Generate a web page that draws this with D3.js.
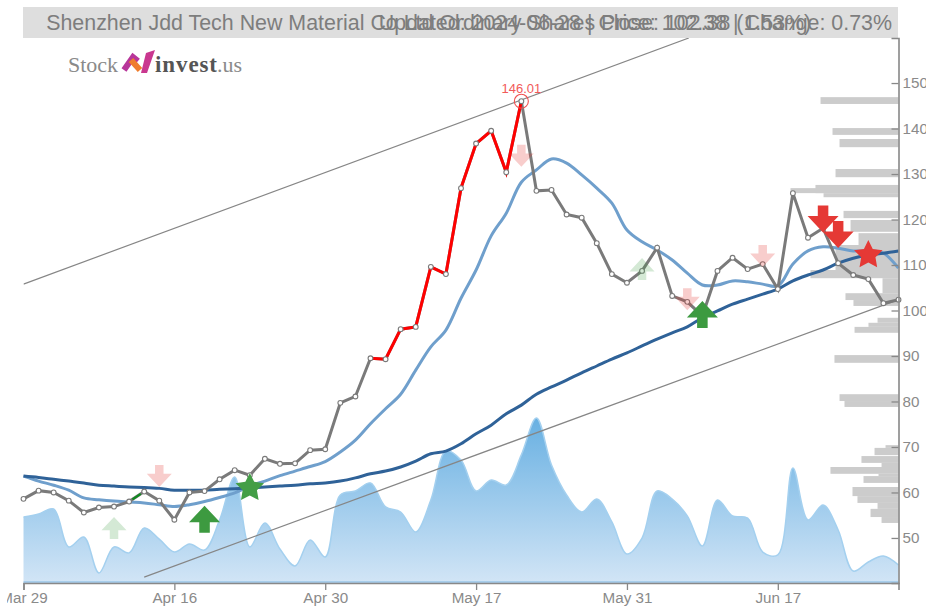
<!DOCTYPE html>
<html>
<head>
<meta charset="utf-8">
<script src="https://cdn.jsdelivr.net/npm/d3@7"></script>
<style>
html, body { margin: 0; padding: 0; background: #fff; overflow: hidden; }
svg { display: block; font-family: "Liberation Sans", Arial, sans-serif; }
</style>
</head>
<body>
<svg width="926" height="610"></svg>
<script>
const closes = [58.6, 60.4, 60.0, 58.2, 55.6, 56.7, 56.9, 58.0, 60.2, 58.2, 54.0, 60.0, 60.3, 62.9, 64.9, 63.8, 67.4, 66.3, 66.4, 69.3, 69.5, 79.7, 81.1, 89.5, 89.3, 95.9, 96.4, 109.6, 108.0, 126.9, 136.7, 139.5, 130.4, 146.01, 126.3, 126.5, 121.1, 120.4, 114.8, 108.0, 106.1, 108.7, 113.8, 103.2, 101.9, 98.8, 108.7, 111.6, 109.1, 110.2, 104.7, 125.8, 116.0, 118.1, 110.4, 107.8, 106.9, 101.6, 102.38]
const shortMa = [63.6, 62.5, 61.6, 60.5, 58.8, 58.4, 58.1, 57.9, 57.7, 57.3, 56.9, 57.3, 58.0, 58.9, 59.9, 61.4, 62.5, 63.7, 64.7, 65.7, 66.8, 68.9, 71.5, 75.1, 78.4, 81.6, 86.9, 92.0, 95.7, 102.7, 108.9, 116.4, 121.4, 128.2, 130.9, 133.3, 132.4, 129.8, 126.9, 123.6, 117.7, 115.1, 113.3, 111.1, 108.2, 105.6, 105.6, 106.5, 106.3, 105.8, 105.4, 110.2, 113.1, 114.0, 113.7, 113.1, 113.1, 112.6, 109.3]
const longMa = [63.6, 63.3, 62.9, 62.5, 62.1, 61.6, 61.4, 61.2, 61.1, 60.9, 60.5, 60.5, 60.5, 60.7, 60.8, 61.0, 61.2, 61.4, 61.6, 61.9, 62.1, 62.5, 63.2, 64.1, 64.7, 65.6, 66.9, 68.5, 69.1, 70.7, 72.9, 74.8, 77.3, 79.2, 81.6, 83.2, 84.7, 86.3, 87.8, 89.3, 90.7, 92.2, 93.7, 95.1, 96.4, 98.4, 99.9, 101.4, 102.5, 103.6, 104.7, 106.5, 107.8, 108.9, 110.4, 111.5, 112.2, 112.6, 113.1]
const volumes = [42.1, 43.9, 46.8, 24.6, 30.4, 9.4, 24.6, 21.1, 35.7, 29.2, 21.6, 26.3, 22.8, 40.4, 65.5, 24.6, 38.6, 23.4, 13.5, 28.7, 18.7, 55.0, 57.3, 62.0, 48.0, 45.0, 33.3, 52.0, 80.7, 75.4, 57.3, 63.7, 60.8, 78.4, 100.0, 72.5, 55.0, 45.0, 52.6, 39.2, 20.5, 29.8, 57.3, 52.6, 42.7, 25.1, 52.0, 42.7, 41.5, 21.6, 19.9, 70.8, 40.4, 49.1, 34.5, 10.5, 15.8, 19.3, 14.0]

const tickIndex = [0, 10, 20, 30, 40, 50]
const tickLabels = ['Mar 29', 'Apr 16', 'Apr 30', 'May 17', 'May 31', 'Jun 17']
const priceTicks = [50, 60, 70, 80, 90, 100, 110, 120, 130, 140, 150]

// price profile on the right edge
const profileHigh = [146.9, 140.1, 137.7, 131.1, 127.6, 126.9, 125.8, 121.9, 119.9, 117.0, 114.4, 108.9, 107.1, 103.8, 102.3, 98.4, 97.3, 96.4, 90.2, 81.6, 80.1, 70.4, 69.8, 68.0, 66.5, 65.6, 64.1, 63.6, 61.2, 59.2, 57.7, 56.4, 54.6]
const profileLow = [145.4, 138.6, 135.9, 129.3, 125.8, 125.8, 124.9, 120.3, 117.3, 114.4, 108.9, 107.1, 103.8, 102.3, 101.0, 97.3, 96.4, 95.1, 88.5, 80.1, 78.8, 69.8, 68.2, 66.5, 65.6, 64.1, 63.6, 62.1, 59.2, 57.7, 56.4, 54.6, 53.3]
const profileVol = [72.2, 61.1, 54.6, 58.3, 76.9, 100, 69.4, 50.9, 44.4, 37.0, 58.3, 81.5, 14.8, 49.1, 41.7, 19.4, 27.8, 40.7, 59.3, 54.6, 50.0, 12.0, 22.2, 34.3, 15.7, 63.0, 18.5, 32.4, 42.6, 38.0, 19.4, 25.9, 15.7]

// signals
const signalIndex = [6, 9, 12, 15, 33, 41, 44, 45, 49, 53, 54, 56]
const signalPrice = [52.2, 63.6, 54.1, 61.0, 134.0, 109.1, 102.5, 99.1, 112.0, 120.1, 116.7, 112.2]
const signalKind = ['paleUp', 'paleDown', 'up', 'greenStar', 'paleDown', 'paleUp', 'paleDown', 'up', 'paleDown', 'down', 'down', 'redStar']

const upperChannel = [[0, 105.8], [44.1, 159.9]]
const lowerChannel = [[8, 41.4], [58, 102.4]]

const redFrom = 23
const redTo = 33
const peakIndex = 33

const titleLeft = 'Shenzhen Jdd Tech New Material Co Ltd Ordinary Shares Price: 102.38 | Change: 0.73%'
const titleCenter = 'Updated: 2024-06-28 | Close: 102.38 (1.53%)'

const svg = d3.select('svg')
const plot = {left: 23.5, right: 898.5, top: 38, bottom: 583}

const xScale = d3.scaleLinear().domain([0, closes.length - 1]).range([plot.left, plot.right])
const yScale = d3.scaleLinear().domain([40.1, 159.9]).range([plot.bottom, plot.top])
const volScale = d3.scaleLinear().domain([3.5, 100]).range([plot.bottom, 418])
const profileScale = d3.scaleLinear().domain([0, 100]).range([0, 108])

const defs = svg.append('defs')
const grad = defs.append('linearGradient')
	.attr('id', 'volFill').attr('x1', 0).attr('x2', 0).attr('y1', 0).attr('y2', 1)
grad.append('stop').attr('offset', '0%').attr('stop-color', '#68b0e2')
grad.append('stop').attr('offset', '100%').attr('stop-color', '#d2e5f6')
defs.append('clipPath').attr('id', 'pageClip')
	.append('rect').attr('x', 7).attr('y', 0).attr('width', 919).attr('height', 610)
defs.append('clipPath').attr('id', 'plotClip')
	.append('rect').attr('x', plot.left).attr('y', plot.top).attr('width', plot.right - plot.left).attr('height', plot.bottom - plot.top)

const page = svg.append('g').attr('clip-path', 'url(#pageClip)')

// title band
page.append('rect')
	.attr('x', 23).attr('y', 7).attr('width', 875).attr('height', 31)
	.attr('fill', '#dedede')
page.append('text')
	.attr('x', 892).attr('y', 29.5)
	.attr('text-anchor', 'end')
	.attr('font-size', 21.4)
	.attr('fill', '#7d7d7d')
	.text(titleLeft)
page.append('text')
	.attr('x', 595).attr('y', 29.5)
	.attr('text-anchor', 'middle')
	.attr('font-size', 21.4)
	.attr('fill', '#7d7d7d')
	.text(titleCenter)

// logo
const logo = page.append('g').attr('font-family', '"Liberation Serif", serif')
logo.append('text').attr('x', 68).attr('y', 71.5)
	.attr('font-size', 22).attr('fill', '#8a8a8a')
	.text('Stock')
logo.append('path').attr('d', 'M124 70 L133 57 L138 61').attr('fill', 'none').attr('stroke', '#b8369a').attr('stroke-width', 6)
logo.append('path').attr('d', 'M131 60 L140 70').attr('fill', 'none').attr('stroke', '#ef7d2d').attr('stroke-width', 6)
logo.append('path').attr('d', 'M141 73 L147 73 L155 50 L146 53 Z').attr('fill', '#c9378f')
logo.append('text').attr('x', 155).attr('y', 71.5)
	.attr('font-size', 23).attr('font-weight', 'bold').attr('fill', '#555').attr('letter-spacing', 0.9)
	.text('invest')
logo.append('text').attr('x', 217).attr('y', 71.5)
	.attr('font-size', 22).attr('fill', '#8a8a8a')
	.text('.us')

// volume area
const volArea = d3.area()
	.x((d, i) => xScale(i))
	.y0(plot.bottom)
	.y1(d => volScale(d))
	.curve(d3.curveCatmullRom)
const volLine = d3.line()
	.x((d, i) => xScale(i))
	.y(d => volScale(d))
	.curve(d3.curveCatmullRom)

page.append('path').datum(volumes)
	.attr('d', volArea)
	.attr('fill', 'url(#volFill)')
page.append('path').datum(volumes)
	.attr('d', volLine)
	.attr('fill', 'none')
	.attr('stroke', '#a4d0ef')
	.attr('stroke-width', 1.5)
page.append('line')
	.attr('x1', plot.left).attr('x2', plot.right).attr('y1', plot.bottom - 1).attr('y2', plot.bottom - 1)
	.attr('stroke', '#7fb6e0').attr('stroke-width', 1)

// price profile
page.selectAll('.profile')
	.data(profileVol)
	.enter()
	.append('rect')
	.attr('class', 'profile')
	.attr('x', d => plot.right - profileScale(d))
	.attr('width', d => profileScale(d))
	.attr('y', (d, i) => yScale(profileHigh[i]))
	.attr('height', (d, i) => yScale(profileLow[i]) - yScale(profileHigh[i]))
	.attr('fill', '#cccccc')

// channel lines
const channel = page.append('g').attr('clip-path', 'url(#plotClip)')
;[upperChannel, lowerChannel].forEach(c => {
	channel.append('line')
		.attr('x1', xScale(c[0][0])).attr('y1', yScale(c[0][1]))
		.attr('x2', xScale(c[1][0])).attr('y2', yScale(c[1][1]))
		.attr('stroke', '#868686')
		.attr('stroke-width', 1.2)
})

// moving averages
const maLine = d3.line()
	.x((d, i) => xScale(i))
	.y(d => yScale(d))
	.curve(d3.curveCatmullRom)

page.append('path').datum(shortMa)
	.attr('d', maLine)
	.attr('fill', 'none')
	.attr('stroke', '#6f9fcc')
	.attr('stroke-width', 3)
page.append('path').datum(longMa)
	.attr('d', maLine)
	.attr('fill', 'none')
	.attr('stroke', '#2f6298')
	.attr('stroke-width', 3)

// close line
const closeLine = d3.line()
	.x(d => xScale(d.i))
	.y(d => yScale(d.v))
const closePoints = closes.map((v, i) => ({i: i, v: v}))

page.append('path').datum(closePoints)
	.attr('d', closeLine)
	.attr('fill', 'none')
	.attr('stroke', '#7a7a7a')
	.attr('stroke-width', 3)
page.append('path').datum(closePoints.slice(redFrom, redTo + 1))
	.attr('d', closeLine)
	.attr('fill', 'none')
	.attr('stroke', '#ff0000')
	.attr('stroke-width', 3)
page.append('path').datum(closePoints.slice(7, 9))
	.attr('d', closeLine)
	.attr('fill', 'none')
	.attr('stroke', '#0f8a1e')
	.attr('stroke-width', 2.2)
	.attr('stroke-dasharray', '0,4,10,100')

page.selectAll('.pt')
	.data(closePoints)
	.enter()
	.append('circle')
	.attr('class', 'pt')
	.attr('cx', d => xScale(d.i))
	.attr('cy', d => yScale(d.v))
	.attr('r', 2.4)
	.attr('fill', '#fff')
	.attr('stroke', '#7a7a7a')
	.attr('stroke-width', 1.1)

// peak label
page.append('circle')
	.attr('cx', xScale(peakIndex)).attr('cy', yScale(closes[peakIndex]))
	.attr('r', 7)
	.attr('fill', 'none')
	.attr('stroke', '#f05050')
	.attr('stroke-width', 1.1)
page.append('text')
	.attr('x', xScale(peakIndex)).attr('y', yScale(closes[peakIndex]) - 8)
	.attr('text-anchor', 'middle')
	.attr('font-size', 13)
	.attr('fill', '#f25a5a')
	.text(closes[peakIndex].toFixed(2))

// signal markers
const arrowPath = (w, h, dir) => {
	const hw = w / 2, hh = h / 2, st = w * 0.17, neck = dir * 0.11 * h
	return `M0 ${-dir * hh} L${hw} ${neck} L${st} ${neck} L${st} ${dir * hh} L${-st} ${dir * hh} L${-st} ${neck} L${-hw} ${neck} Z`
}
const starPath = (r, inner) => d3.lineRadial().curve(d3.curveLinearClosed)(
	d3.range(10).map(k => [k * Math.PI / 5, k % 2 ? inner : r])
)
const markerStyle = {
	paleUp: {d: arrowPath(25, 22, 1), fill: '#3d9a40', op: 0.22},
	paleDown: {d: arrowPath(25, 22, -1), fill: '#e53935', op: 0.25},
	up: {d: arrowPath(31, 27, 1), fill: '#3d9a40', op: 1},
	down: {d: arrowPath(31, 27, -1), fill: '#e53935', op: 1},
	greenStar: {d: starPath(15, 7.5), fill: '#439e46', op: 1},
	redStar: {d: starPath(15, 7.5), fill: '#e53935', op: 1}
}
page.selectAll('.signal')
	.data(signalIndex)
	.enter()
	.append('path')
	.attr('class', 'signal')
	.attr('transform', (d, i) => `translate(${xScale(d)}, ${yScale(signalPrice[i])})`)
	.attr('d', (d, i) => markerStyle[signalKind[i]].d)
	.attr('fill', (d, i) => markerStyle[signalKind[i]].fill)
	.attr('opacity', (d, i) => markerStyle[signalKind[i]].op)

// axes
const xAxis = d3.axisBottom(xScale)
	.tickValues(tickIndex)
	.tickFormat((d, i) => tickLabels[i])
	.tickSizeInner(7)
	.tickSizeOuter(7)
	.tickPadding(2)
const yAxis = d3.axisRight(yScale)
	.tickValues(priceTicks)
	.tickSizeInner(-7)
	.tickSizeOuter(-7)
	.tickPadding(4)

const gx = page.append('g').attr('transform', `translate(0, ${plot.bottom})`).call(xAxis)
const gy = page.append('g').attr('transform', `translate(${plot.right}, 0)`).call(yAxis)

;[gx, gy].forEach(g => {
	g.selectAll('path').attr('stroke', '#888').attr('stroke-width', 1.6).attr('fill', 'none')
	g.selectAll('line').attr('stroke', '#888').attr('stroke-width', 1.3)
	g.selectAll('text').attr('fill', '#8a8a8a').attr('font-size', 15.2).attr('font-family', '"Liberation Sans", Arial, sans-serif')
})
</script>
</body>
</html>
